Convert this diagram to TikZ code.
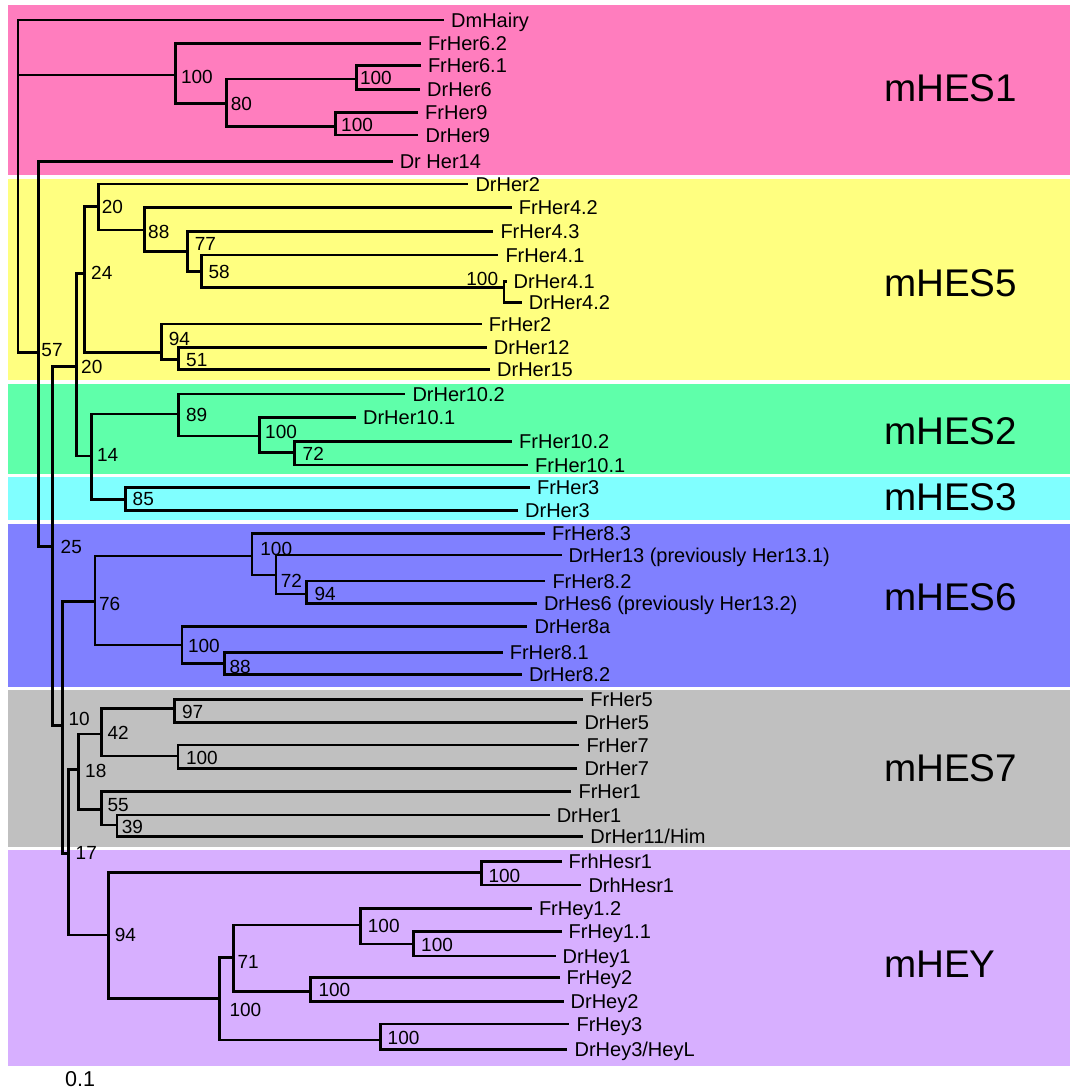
\documentclass[tikz,border=0pt]{standalone}
\usepackage{fontspec}
\setmainfont{Liberation Sans}
\definecolor{bandpink}{RGB}{255,125,190}
\definecolor{bandyellow}{RGB}{255,255,128}
\definecolor{bandgreen}{RGB}{95,255,170}
\definecolor{bandcyan}{RGB}{128,255,255}
\definecolor{bandblue}{RGB}{128,128,255}
\definecolor{bandgray}{RGB}{192,192,192}
\definecolor{bandpurple}{RGB}{215,175,255}
\begin{document}
\begin{tikzpicture}[x=1pt,y=-1pt,
  br/.style={line width=2.8pt, line join=miter},
  leaf/.style={anchor=base west, inner sep=0pt, xshift=7pt, yshift=-7.2pt,
    font=\fontsize{20pt}{22pt}\selectfont},
  boot/.style={anchor=base west, inner sep=0pt, yshift=-6.8pt,
    font=\fontsize{19pt}{21pt}\selectfont},
  grp/.style={anchor=base west, inner sep=0pt,
    font=\fontsize{38.6pt}{40pt}\selectfont}]
\useasboundingbox (0,0) rectangle (1070,1090);
\fill[white] (0,0) rectangle (1070,1090);

% clade bands
\fill[bandpink]   (7.5,5)     rectangle (1070,175);
\fill[bandyellow] (7.5,178.5) rectangle (1070,380);
\fill[bandgreen]  (7.5,383.5) rectangle (1070,473.5);
\fill[bandcyan]   (7.5,476.7) rectangle (1070,520);
\fill[bandblue]   (7.5,524)   rectangle (1070,686.7);
\fill[bandgray]   (7.5,690)   rectangle (1070,847);
\fill[bandpurple] (7.5,850)   rectangle (1070,1066);

\node[grp] (gHESa) at (884,101.7) {mHES1};
\node[grp] (gHESe) at (884,296)   {mHES5};
\node[grp] (gHESb) at (884,444)   {mHES2};
\node[grp] (gHESc) at (884,510)   {mHES3};
\node[grp] (gHESf) at (884,610)   {mHES6};
\node[grp] (gHESg) at (884,781)   {mHES7};
\node[grp] (gHEY)  at (884,977)   {mHEY};

% leaf tips
\coordinate (L1)  at (444,20);
\coordinate (L2)  at (420.8,43.3);
\coordinate (L3)  at (420.8,65.7);
\coordinate (L4)  at (420,89.3);
\coordinate (L5)  at (418,112.3);
\coordinate (L6)  at (418.4,135);
\coordinate (L7)  at (392.6,161.7);
\coordinate (L8)  at (468.3,184);
\coordinate (L9)  at (511.7,207.3);
\coordinate (L10) at (493.3,231.7);
\coordinate (L11) at (498.3,255);
\coordinate (L12) at (506.5,281.7);
\coordinate (L13) at (521.7,302.7);
\coordinate (L14) at (481.7,324);
\coordinate (L15) at (486.7,347.3);
\coordinate (L16) at (490,369.3);
\coordinate (L17) at (405.3,394);
\coordinate (L18) at (355.9,417.7);
\coordinate (L19) at (512,441.7);
\coordinate (L20) at (528,465);
\coordinate (L21) at (529.9,487.3);
\coordinate (L22) at (518,510.7);
\coordinate (L23) at (545,533.3);
\coordinate (L24) at (561.5,555);
\coordinate (L25) at (545.3,581);
\coordinate (L26) at (536.8,603.3);
\coordinate (L27) at (527.4,626.7);
\coordinate (L28) at (502.6,652.7);
\coordinate (L29) at (521.8,674.3);
\coordinate (L30) at (583.2,699.3);
\coordinate (L31) at (577.3,722.7);
\coordinate (L32) at (579.3,745);
\coordinate (L33) at (577.3,768.3);
\coordinate (L34) at (571.4,791.7);
\coordinate (L35) at (549.6,815);
\coordinate (L36) at (583.2,836.7);
\coordinate (L37) at (561.5,861.7);
\coordinate (L38) at (581.3,885);
\coordinate (L39) at (531.8,908.3);
\coordinate (L40) at (561.5,931.7);
\coordinate (L41) at (555.5,956);
\coordinate (L42) at (559.5,977.3);
\coordinate (L43) at (563.5,1001.7);
\coordinate (L44) at (569.4,1024);
\coordinate (L45) at (567.4,1049.3);

% internal nodes (x of the split, y where the parent branch joins)
\coordinate (R)     at (17.9,186);
\coordinate (A)     at (175.6,75);
\coordinate (B)     at (226.2,103.3);
\coordinate (C)     at (356.4,79);
\coordinate (D)     at (335.7,126.7);
\coordinate (N57)   at (38.3,352.7);
\coordinate (N25)   at (52.5,546.7);
\coordinate (N20L)  at (76.5,366.3);
\coordinate (N24)   at (84.4,273.3);
\coordinate (N20U)  at (98.1,206.7);
\coordinate (N88)   at (144.6,230);
\coordinate (N77)   at (187.7,251.7);
\coordinate (N58)   at (201.4,271.7);
\coordinate (N100d) at (504,287.3);
\coordinate (N94)   at (161.8,352.7);
\coordinate (N51)   at (178.4,359.3);
\coordinate (N14)   at (91.2,456);
\coordinate (N89)   at (178.7,414);
\coordinate (N100e) at (259.8,436);
\coordinate (N72a)  at (294.6,452.7);
\coordinate (N85)   at (125.7,499.3);
\coordinate (N10)   at (62.8,725.7);
\coordinate (N76)   at (94.9,601.7);
\coordinate (N100f) at (251.9,556);
\coordinate (N72b)  at (276,575);
\coordinate (N94b)  at (306.4,594);
\coordinate (N100g) at (181.9,645);
\coordinate (N88b)  at (224.2,663.3);
\coordinate (N17)   at (68.5,853.3);
\coordinate (N18)   at (78.3,769.3);
\coordinate (N42)   at (101.5,734);
\coordinate (N97)   at (174.8,708.3);
\coordinate (N100h) at (178,756);
\coordinate (N55)   at (101.5,809.5);
\coordinate (N39)   at (117,825);
\coordinate (N94c)  at (108.7,935);
\coordinate (N100i) at (481.6,872.7);
\coordinate (N100j) at (219.5,998.3);
\coordinate (N71)   at (233.3,957.3);
\coordinate (N100k) at (360.6,925);
\coordinate (N100n) at (413.2,944);
\coordinate (N100l) at (310.4,991.7);
\coordinate (N100m) at (380.4,1040);

% branches
\draw[br] (R) |- (L1);  \draw[br] (R) |- (A);   \draw[br] (R) |- (N57);
\draw[br] (A) |- (L2);  \draw[br] (A) |- (B);
\draw[br] (B) |- (C);   \draw[br] (B) |- (D);
\draw[br] (C) |- (L3);  \draw[br] (C) |- (L4);
\draw[br] (D) |- (L5);  \draw[br] (D) |- (L6);
\draw[br] (N57) |- (L7);   \draw[br] (N57) |- (N25);
\draw[br] (N25) |- (N20L); \draw[br] (N25) |- (N10);
\draw[br] (N20L) |- (N24); \draw[br] (N20L) |- (N14);
\draw[br] (N24) |- (N20U); \draw[br] (N24) |- (N94);
\draw[br] (N20U) |- (L8);  \draw[br] (N20U) |- (N88);
\draw[br] (N88) |- (L9);   \draw[br] (N88) |- (N77);
\draw[br] (N77) |- (L10);  \draw[br] (N77) |- (N58);
\draw[br] (N58) |- (L11);  \draw[br] (N58) |- (N100d);
\draw[br] (N100d) |- (L12); \draw[br] (N100d) |- (L13);
\draw[br] (N94) |- (L14);  \draw[br] (N94) |- (N51);
\draw[br] (N51) |- (L15);  \draw[br] (N51) |- (L16);
\draw[br] (N14) |- (N89);  \draw[br] (N14) |- (N85);
\draw[br] (N89) |- (L17);  \draw[br] (N89) |- (N100e);
\draw[br] (N100e) |- (L18); \draw[br] (N100e) |- (N72a);
\draw[br] (N72a) |- (L19); \draw[br] (N72a) |- (L20);
\draw[br] (N85) |- (L21);  \draw[br] (N85) |- (L22);
\draw[br] (N10) |- (N76);  \draw[br] (N10) |- (N17);
\draw[br] (N76) |- (N100f); \draw[br] (N76) |- (N100g);
\draw[br] (N100f) |- (L23); \draw[br] (N100f) |- (N72b);
\draw[br] (N72b) |- (L24); \draw[br] (N72b) |- (N94b);
\draw[br] (N94b) |- (L25); \draw[br] (N94b) |- (L26);
\draw[br] (N100g) |- (L27); \draw[br] (N100g) |- (N88b);
\draw[br] (N88b) |- (L28); \draw[br] (N88b) |- (L29);
\draw[br] (N17) |- (N18);  \draw[br] (N17) |- (N94c);
\draw[br] (N18) |- (N42);  \draw[br] (N18) |- (N55);
\draw[br] (N42) |- (N97);  \draw[br] (N42) |- (N100h);
\draw[br] (N97) |- (L30);  \draw[br] (N97) |- (L31);
\draw[br] (N100h) |- (L32); \draw[br] (N100h) |- (L33);
\draw[br] (N55) |- (L34);  \draw[br] (N55) |- (N39);
\draw[br] (N39) |- (L35);  \draw[br] (N39) |- (L36);
\draw[br] (N94c) |- (N100i); \draw[br] (N94c) |- (N100j);
\draw[br] (N100i) |- (L37); \draw[br] (N100i) |- (L38);
\draw[br] (N100j) |- (N71); \draw[br] (N100j) |- (N100m);
\draw[br] (N71) |- (N100k); \draw[br] (N71) |- (N100l);
\draw[br] (N100k) |- (L39); \draw[br] (N100k) |- (N100n);
\draw[br] (N100n) |- (L40); \draw[br] (N100n) |- (L41);
\draw[br] (N100l) |- (L42); \draw[br] (N100l) |- (L43);
\draw[br] (N100m) |- (L44); \draw[br] (N100m) |- (L45);

% leaf names
\node[leaf] (t1)  at (L1)  {DmHairy};
\node[leaf] (t2)  at (L2)  {FrHer6.2};
\node[leaf] (t3)  at (L3)  {FrHer6.1};
\node[leaf] (t4)  at (L4)  {DrHer6};
\node[leaf] (t5)  at (L5)  {FrHer9};
\node[leaf] (t6)  at (L6)  {DrHer9};
\node[leaf] (t7)  at (L7)  {Dr Her14};
\node[leaf] (t8)  at (L8)  {DrHer2};
\node[leaf] (t9)  at (L9)  {FrHer4.2};
\node[leaf] (t10) at (L10) {FrHer4.3};
\node[leaf] (t11) at (L11) {FrHer4.1};
\node[leaf] (t12) at (L12) {DrHer4.1};
\node[leaf] (t13) at (L13) {DrHer4.2};
\node[leaf] (t14) at (L14) {FrHer2};
\node[leaf] (t15) at (L15) {DrHer12};
\node[leaf] (t16) at (L16) {DrHer15};
\node[leaf] (t17) at (L17) {DrHer10.2};
\node[leaf] (t18) at (L18) {DrHer10.1};
\node[leaf] (t19) at (L19) {FrHer10.2};
\node[leaf] (t20) at (L20) {FrHer10.1};
\node[leaf] (t21) at (L21) {FrHer3};
\node[leaf] (t22) at (L22) {DrHer3};
\node[leaf] (t23) at (L23) {FrHer8.3};
\node[leaf] (t24) at (L24) {DrHer13 (previously Her13.1)};
\node[leaf] (t25) at (L25) {FrHer8.2};
\node[leaf] (t26) at (L26) {DrHes6 (previously Her13.2)};
\node[leaf] (t27) at (L27) {DrHer8a};
\node[leaf] (t28) at (L28) {FrHer8.1};
\node[leaf] (t29) at (L29) {DrHer8.2};
\node[leaf] (t30) at (L30) {FrHer5};
\node[leaf] (t31) at (L31) {DrHer5};
\node[leaf] (t32) at (L32) {FrHer7};
\node[leaf] (t33) at (L33) {DrHer7};
\node[leaf] (t34) at (L34) {FrHer1};
\node[leaf] (t35) at (L35) {DrHer1};
\node[leaf] (t36) at (L36) {DrHer11/Him};
\node[leaf] (t37) at (L37) {FrhHesr1};
\node[leaf] (t38) at (L38) {DrhHesr1};
\node[leaf] (t39) at (L39) {FrHey1.2};
\node[leaf] (t40) at (L40) {FrHey1.1};
\node[leaf] (t41) at (L41) {DrHey1};
\node[leaf] (t42) at (L42) {FrHey2};
\node[leaf] (t43) at (L43) {DrHey2};
\node[leaf] (t44) at (L44) {FrHey3};
\node[leaf] (t45) at (L45) {DrHey3/HeyL};

% bootstrap values
\node[boot] (bA)     at (180.8,76.7)  {100};
\node[boot] (bB)     at (230.7,103.3) {80};
\node[boot] (bC)     at (359.8,77.7)  {100};
\node[boot] (bD)     at (341,125)     {100};
\node[boot] (b57)    at (41.3,350)    {57};
\node[boot] (b25)    at (60.5,546.5)  {25};
\node[boot] (b20L)   at (81,366.7)    {20};
\node[boot] (b24)    at (91,273)      {24};
\node[boot] (b20U)   at (101.6,206.7) {20};
\node[boot] (b88)    at (148,231.7)   {88};
\node[boot] (b77)    at (194.6,244)   {77};
\node[boot] (b58)    at (208.3,271.7) {58};
\node[boot, anchor=base east] (b100d) at (498.3,278.3) {100};
\node[boot] (b94)    at (168.7,338.3) {94};
\node[boot] (b51)    at (186,360)     {51};
\node[boot] (b14)    at (96.9,455)    {14};
\node[boot] (b89)    at (185.8,415)   {89};
\node[boot] (b100e)  at (265,431.7)   {100};
\node[boot] (b72a)   at (302.5,454)   {72};
\node[boot] (b85)    at (132.5,498.3) {85};
\node[boot] (b10)    at (68.3,718.3)  {10};
\node[boot] (b76)    at (98.9,603.3)  {76};
\node[boot] (b100f)  at (260.2,548.3) {100};
\node[boot] (b72b)   at (280.7,580.7) {72};
\node[boot] (b94b)   at (314.4,594)   {94};
\node[boot] (b100g)  at (187.8,646)   {100};
\node[boot] (b88b)   at (229.3,666.7) {88};
\node[boot] (b17)    at (75.5,852.5)  {17};
\node[boot] (b18)    at (85,770.7)    {18};
\node[boot] (b42)    at (107.3,732.7) {42};
\node[boot] (b97)    at (181.9,711.7) {97};
\node[boot] (b100h)  at (185.8,757.3) {100};
\node[boot] (b55)    at (107.3,805)   {55};
\node[boot] (b39)    at (121.7,826.7) {39};
\node[boot] (b94c)   at (114.7,935)   {94};
\node[boot] (b100i)  at (488.3,876)   {100};
\node[boot] (b100j)  at (229.3,1010)  {100};
\node[boot] (b71)    at (237.3,961.7) {71};
\node[boot] (b100k)  at (367.7,926)   {100};
\node[boot] (b100n)  at (421,945)     {100};
\node[boot] (b100l)  at (318.3,990)   {100};
\node[boot] (b100m)  at (387.5,1037.3) {100};

% scale label
\node[anchor=base west, inner sep=0pt, font=\fontsize{21.5pt}{23pt}\selectfont]
  (scale) at (65,1086.5) {0.1};
\end{tikzpicture}
\end{document}
